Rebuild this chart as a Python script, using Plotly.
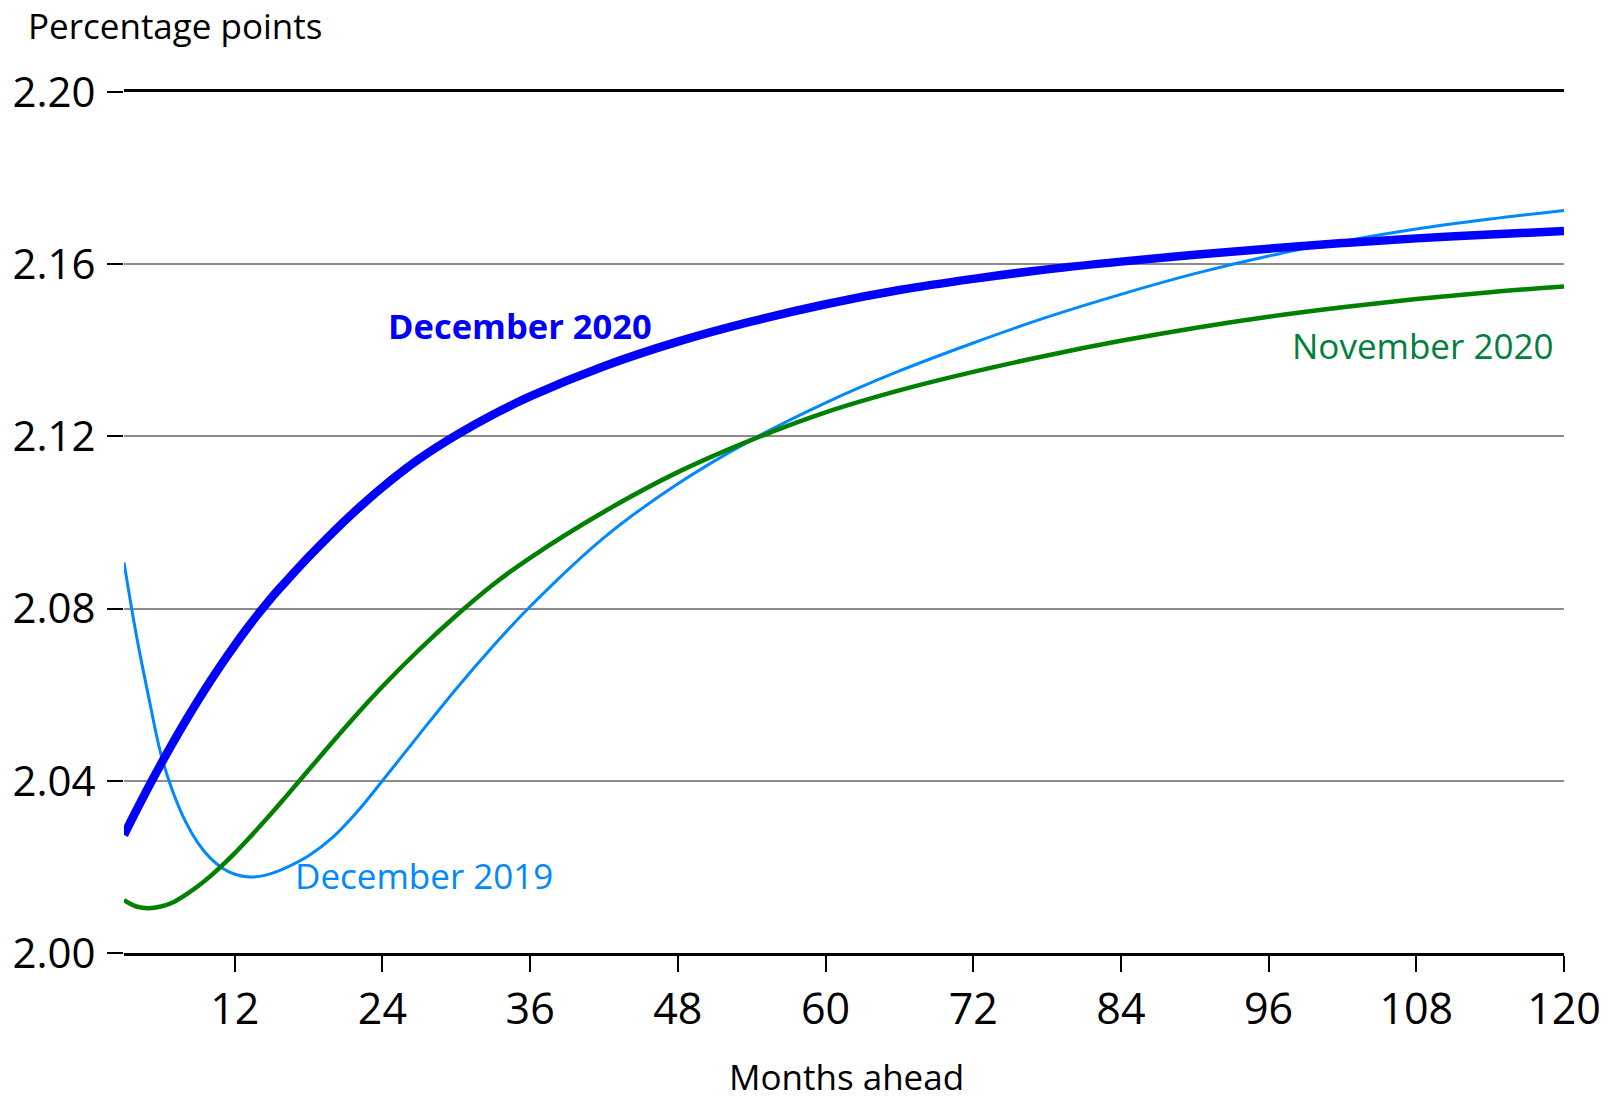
"""Term premium curves by months ahead."""

import plotly.graph_objects as go

months = [3, 4, 5, 6, 7, 8, 9, 10, 11, 12, 13, 14, 15, 16, 18, 20, 22, 24, 27, 30,
          33, 36, 42, 48, 54, 60, 66, 72, 78, 84, 90, 96, 102, 108, 114, 120]

dec_2020 = [2.0274, 2.0331, 2.0386, 2.0439, 2.0490, 2.0539, 2.0586, 2.0631, 2.0674,
            2.0715, 2.0754, 2.0791, 2.0826, 2.0858, 2.0920, 2.0978, 2.1032, 2.1082,
            2.1148, 2.1203, 2.1251, 2.1293, 2.1363, 2.1420, 2.1467, 2.1507, 2.1540,
            2.1566, 2.1588, 2.1606, 2.1622, 2.1636, 2.1649, 2.1660, 2.1669, 2.1677]

nov_2020 = [2.0123, 2.0108, 2.0104, 2.0108, 2.0118, 2.0135, 2.0155, 2.0178, 2.0204,
            2.0232, 2.0262, 2.0293, 2.0325, 2.0358, 2.0425, 2.0492, 2.0557, 2.0619,
            2.0705, 2.0784, 2.0856, 2.0918, 2.1025, 2.1117, 2.1192, 2.1256, 2.1307,
            2.1350, 2.1388, 2.1422, 2.1452, 2.1478, 2.1500, 2.1519, 2.1535, 2.1548]

dec_2019 = [2.0907, 2.0739, 2.0595, 2.0462, 2.0372, 2.0305, 2.0256, 2.0221, 2.0197,
            2.0183, 2.0177, 2.0178, 2.0185, 2.0196, 2.0226, 2.0270, 2.0330, 2.0400,
            2.0508, 2.0614, 2.0713, 2.0805, 2.0965, 2.1090, 2.1192, 2.1278, 2.1352,
            2.1417, 2.1477, 2.1530, 2.1578, 2.1619, 2.1653, 2.1682, 2.1705, 2.1725]

x_ticks = [12, 24, 36, 48, 60, 72, 84, 96, 108, 120]
y_ticks = [2.00, 2.04, 2.08, 2.12, 2.16, 2.20]

FONT = "Open Sans"

fig = go.Figure()

# thinner lines first so the thick December 2020 line sits on top
fig.add_trace(go.Scatter(x=months, y=dec_2019, mode="lines", line_shape="spline",
                         line=dict(color="#0088FF", width=3), name="December 2019"))
fig.add_trace(go.Scatter(x=months, y=nov_2020, mode="lines", line_shape="spline",
                         line=dict(color="#008000", width=4.5), name="November 2020"))
fig.add_trace(go.Scatter(x=months, y=dec_2020, mode="lines", line_shape="spline",
                         line=dict(color="#0000FF", width=8.5), name="December 2020"))

labels = [
    dict(x=35.2, y=2.1458, text="<b>December 2020</b>", color="#0000FF", size=34.5),
    dict(x=27.4, y=2.0179, text="December 2019", color="#0088FF", size=35),
    dict(x=108.5, y=2.1412, text="November 2020", color="#00803C", size=35),
]
for lab in labels:
    fig.add_annotation(x=lab["x"], y=lab["y"], text=lab["text"], showarrow=False,
                       xanchor="center", yanchor="middle",
                       font=dict(family=FONT, size=lab["size"], color=lab["color"]))

fig.add_annotation(x=-0.0683, y=1.1065, xref="paper", yref="paper", xanchor="left",
                   yanchor="top", text="Percentage points", showarrow=False,
                   font=dict(family=FONT, size=35, color="black"))
fig.add_annotation(x=0.5014, y=-0.1429, xref="paper", yref="paper", xanchor="center",
                   yanchor="middle", text="Months ahead", showarrow=False,
                   font=dict(family=FONT, size=35, color="black"))

fig.update_layout(
    width=1614,
    height=1100,
    margin=dict(l=124, r=50, t=92, b=147, autoexpand=False),
    plot_bgcolor="white",
    paper_bgcolor="white",
    showlegend=False,
    font=dict(family=FONT, color="black"),
)

fig.update_xaxes(
    range=[3, 120],
    tickvals=x_ticks,
    ticks="outside",
    ticklen=16,
    tickwidth=1.5,
    tickcolor="black",
    showline=True,
    linecolor="black",
    linewidth=3,
    mirror=True,
    showgrid=False,
    zeroline=False,
    automargin=False,
    tickfont=dict(family=FONT, size=43, color="black"),
)

fig.update_yaxes(
    range=[2.0, 2.2],
    tickvals=y_ticks,
    tickformat=".2f",
    ticks="outside",
    ticklen=16,
    tickwidth=1.5,
    tickcolor="black",
    showline=False,
    showgrid=True,
    gridcolor="#8C8C8C",
    gridwidth=1.5,
    zeroline=False,
    automargin=False,
    ticklabelstandoff=3,
    tickfont=dict(family=FONT, size=42, color="black"),
)

# drop the default page margin so the figure sits at the window's corner
fig.write_html("out.html", config={"displayModeBar": False},
               post_script="document.body.style.margin = '0';")
